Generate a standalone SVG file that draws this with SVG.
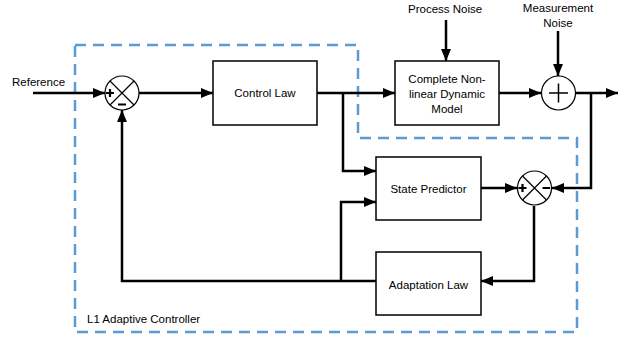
<svg xmlns="http://www.w3.org/2000/svg" width="624" height="341" viewBox="0 0 624 341">
<defs>
<marker id="ah" viewBox="0 0 12 10" refX="12" refY="5" markerWidth="12" markerHeight="10" markerUnits="userSpaceOnUse" orient="auto">
<path d="M0,0 L12,5 L0,10 Z" fill="#000"/>
</marker>
</defs>
<style>
text{font-family:"Liberation Sans",Arial,sans-serif;font-size:11.5px;fill:#000}
.box{fill:#fff;stroke:#000;stroke-width:1.5}
.w{fill:none;stroke:#000;stroke-width:2.5}
.a{marker-end:url(#ah)}
.dash{fill:none;stroke:#5b9bd5;stroke-width:2.5;stroke-dasharray:11 7}
.sum{fill:#fff;stroke:#000;stroke-width:1.2}
.x{stroke:#000;stroke-width:1.2}
.sign{font-weight:bold;font-size:13px}
</style>
<rect width="624" height="341" fill="#fff"/>
<path id="boundary" class="dash" d="M75,45 H358 V138 H577 V332 H75 Z"/>
<text x="87" y="323">L1 Adaptive Controller</text>
<g id="connectors">
<path class="w a" d="M33,93 H105"/>
<path class="w a" d="M139,93 H213"/>
<path class="w a" d="M317,93 H395"/>
<path class="w a" d="M343,93 V171 H376"/>
<path class="w a" d="M499,93 H541"/>
<path class="w a" d="M575,93 H618"/>
<path class="w a" d="M591,93 V188 H552"/>
<path class="w a" d="M446,20 V61"/>
<path class="w a" d="M558,31 V76"/>
<path class="w a" d="M481,188 H517"/>
<path class="w a" d="M534,206 V281 H481"/>
<path class="w a" d="M376,281 H122 V110"/>
<path class="w a" d="M341,281 V202 H376"/>
</g>
<g id="reference"><text x="12" y="86">Reference</text></g>
<g id="process-noise"><text x="408" y="13">Process Noise</text></g>
<g id="measurement-noise"><text x="558" y="12" text-anchor="middle">Measurement</text><text x="558" y="27" text-anchor="middle">Noise</text></g>
<g id="sum1">
<circle class="sum" cx="122" cy="93" r="17"/>
<path class="x" d="M110,81 L134,105 M134,81 L110,105"/>
<path d="M106,93 H114 M110,89 V97 M118,104.5 H126" stroke="#000" stroke-width="2.2"/>
</g>
<g id="control-law">
<rect class="box" x="213" y="61" width="104" height="64"/>
<text x="265" y="97" text-anchor="middle">Control Law</text>
</g>
<g id="plant">
<rect class="box" x="395" y="61" width="104" height="64"/>
<text x="447" y="83" text-anchor="middle">Complete Non-</text>
<text x="447" y="98" text-anchor="middle">linear Dynamic</text>
<text x="447" y="113" text-anchor="middle">Model</text>
</g>
<g id="sum-noise">
<circle class="sum" cx="558.5" cy="93" r="17"/>
<path d="M549,93 H568 M558.5,83.5 V102.5" stroke="#000" stroke-width="1.5"/>
</g>
<g id="state-predictor">
<rect class="box" x="376" y="157" width="105" height="63"/>
<text x="428.5" y="193" text-anchor="middle">State Predictor</text>
</g>
<g id="sum2">
<circle class="sum" cx="534.5" cy="188" r="17"/>
<path class="x" d="M522.5,176 L546.5,200 M546.5,176 L522.5,200"/>
<path d="M518.5,188 H526.5 M522.5,184 V192 M542.5,188 H550" stroke="#000" stroke-width="2.2"/>
</g>
<g id="adaptation-law">
<rect class="box" x="376" y="252" width="105" height="63"/>
<text x="428.5" y="289" text-anchor="middle">Adaptation Law</text>
</g>
</svg>
